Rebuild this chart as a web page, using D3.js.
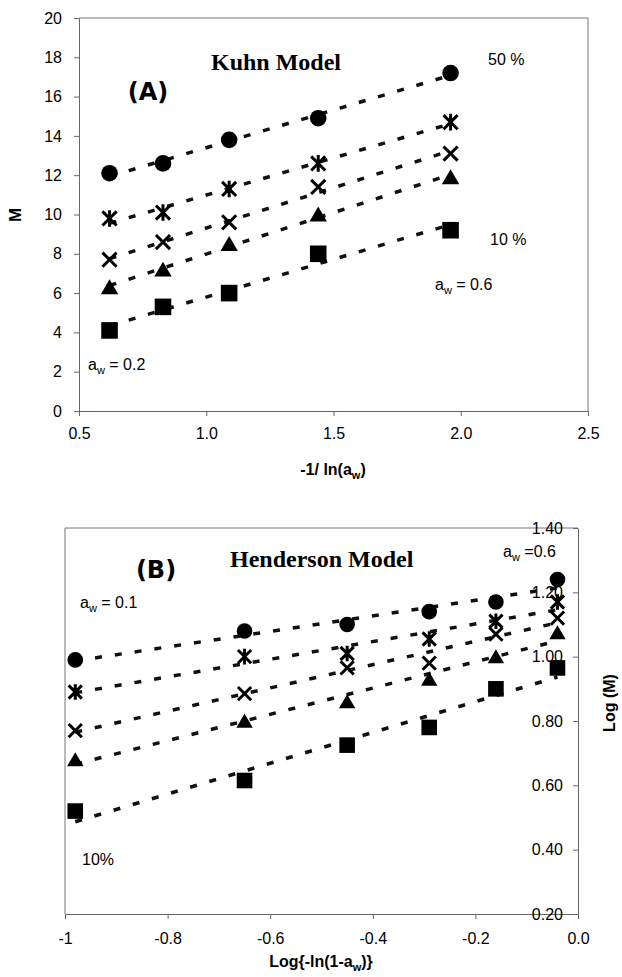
<!DOCTYPE html>
<html>
<head>
<meta charset="utf-8">
<script src="https://cdn.jsdelivr.net/npm/d3@7"></script>
<style>
  body { margin: 0; background: #fff; }
  svg { display: block; font-family: "Liberation Sans", Arial, sans-serif; }
  .tick text { font-size: 16px; fill: #000; }
  .tick line, .domain { stroke: #666; stroke-width: 1; }
  .frame { stroke: #777; stroke-width: 1; fill: none; }
  .fit { stroke: #111; stroke-width: 3.5; stroke-dasharray: 7,13; fill: none; }
  .note { font-size: 16px; fill: #000; }
  .title { font-family: "Liberation Serif", "Times New Roman", serif; font-weight: bold; font-size: 24px; fill: #000; }
  .panel { font-family: "DejaVu Sans", sans-serif; font-weight: bold; font-size: 24px; fill: #000; }
  .axtitle { font-weight: bold; font-size: 16px; fill: #000; }
</style>
</head>
<body>
<svg id="chart" width="622" height="977"></svg>
<script>
// (A) Kuhn model: M vs -1/ln(aw)
var kuhnX = [0.62, 0.83, 1.09, 1.44, 1.96];
var kuhnCircle = [12.1, 12.6, 13.8, 14.9, 17.2];
var kuhnStar = [9.8, 10.1, 11.3, 12.6, 14.7];
var kuhnCross = [7.7, 8.6, 9.6, 11.4, 13.1];
var kuhnTriangle = [6.3, 7.2, 8.5, 10.0, 11.9];
var kuhnSquare = [4.1, 5.3, 6.0, 8.0, 9.2];
var kuhnXTicks = [0.5, 1.0, 1.5, 2.0, 2.5];
var kuhnYTicks = [0, 2, 4, 6, 8, 10, 12, 14, 16, 18, 20];

// (B) Henderson model: Log(M) vs Log{-ln(1-aw)}
var hendX = [-0.98, -0.65, -0.45, -0.29, -0.16, -0.04];
var hendCircle = [0.99, 1.08, 1.10, 1.14, 1.17, 1.24];
var hendStar = [0.89, 1.00, 1.01, 1.055, 1.11, 1.17];
var hendCross = [0.77, 0.885, 0.965, 0.98, 1.07, 1.12];
var hendTriangle = [0.68, 0.80, 0.86, 0.93, 1.00, 1.075];
var hendSquare = [0.52, 0.615, 0.725, 0.78, 0.90, 0.965];
var hendXTicks = [-1, -0.8, -0.6, -0.4, -0.2, 0];
var hendYTicks = [0.2, 0.4, 0.6, 0.8, 1.0, 1.2, 1.4];

var markerTypes = ['circle', 'star', 'cross', 'triangle', 'square'];

var svg = d3.select('#chart');

// marker path, s = half size
function markerPath(type, s) {
  var p = d3.path();
  if (type == 'circle') {
    p.arc(0, 0, s, 0, 2 * Math.PI);
  } else if (type == 'square') {
    p.rect(-s, -s, 2 * s, 2 * s);
  } else if (type == 'triangle') {
    p.moveTo(0, -0.95 * s); p.lineTo(1.05 * s, 0.85 * s); p.lineTo(-1.05 * s, 0.85 * s); p.closePath();
  } else {
    var c = s * 0.85;
    p.moveTo(-c, -c); p.lineTo(c, c);
    p.moveTo(-c, c); p.lineTo(c, -c);
    if (type == 'star') { p.moveTo(0, -s); p.lineTo(0, s); }
  }
  return p.toString();
}

// least squares trend line
function fit(xs, ys) {
  var mx = d3.mean(xs), my = d3.mean(ys);
  var sxy = d3.sum(xs, function(x, i) { return (x - mx) * (ys[i] - my); });
  var sxx = d3.sum(xs, function(x) { return (x - mx) * (x - mx); });
  var b = sxy / sxx, a = my - b * mx;
  var x0 = d3.min(xs), x1 = d3.max(xs);
  return [[x0, a + b * x0], [x1, a + b * x1]];
}

function drawSeries(g, x, y, xs, seriesList, size) {
  seriesList.forEach(function(ys, k) {
    g.append('path')
      .attr('class', 'fit')
      .attr('d', d3.line().x(function(d) { return x(d[0]); }).y(function(d) { return y(d[1]); })(fit(xs, ys)));
  });
  seriesList.forEach(function(ys, k) {
    var type = markerTypes[k];
    var filled = (type == 'circle' || type == 'square' || type == 'triangle');
    g.selectAll(null)
      .data(ys)
      .enter()
      .append('path')
      .attr('transform', function(d, i) { return 'translate(' + x(xs[i]) + ',' + y(d) + ')'; })
      .attr('d', markerPath(type, size))
      .style('fill', filled ? '#000' : 'none')
      .style('stroke', '#000')
      .style('stroke-width', filled ? 0 : 3);
  });
}

function note(x, y, main, sub, rest) {
  var t = svg.append('text').attr('class', 'note').attr('x', x).attr('y', y);
  t.append('tspan').text(main);
  if (sub) {
    t.append('tspan').attr('dy', 4).style('font-size', '11px').text(sub);
    t.append('tspan').attr('dy', -4).text(rest);
  }
  return t;
}

// ---------- panel A ----------
var xA = d3.scaleLinear().domain([0.5, 2.5]).range([79, 588]);
var yA = d3.scaleLinear().domain([0, 20]).range([411, 18]);

svg.append('path').attr('class', 'frame')
  .attr('d', 'M' + xA(0.5) + ',' + yA(20) + 'H' + xA(2.5) + 'V' + yA(0));

svg.append('g')
  .attr('transform', 'translate(0,' + yA(0) + ')')
  .call(d3.axisBottom(xA).tickValues(kuhnXTicks).tickFormat(d3.format('.1f')).tickSize(5).tickSizeOuter(0).tickPadding(12));
svg.append('g')
  .attr('transform', 'translate(' + xA(0.5) + ',0)')
  .call(d3.axisLeft(yA).tickValues(kuhnYTicks).tickFormat(d3.format('d')).tickSize(5).tickSizeOuter(0).tickPadding(12));

var gA = svg.append('g');
drawSeries(gA, xA, yA, kuhnX, [kuhnCircle, kuhnStar, kuhnCross, kuhnTriangle, kuhnSquare], 8.3);

svg.append('text').attr('class', 'title').attr('x', 211).attr('y', 70).text('Kuhn Model');
svg.append('text').attr('class', 'panel').attr('x', 148).attr('y', 100).attr('text-anchor', 'middle').text('(A)');
note(488, 65, '50 %');
note(490, 245, '10 %');
note(435, 290, 'a', 'w', ' = 0.6');
note(88, 370, 'a', 'w', ' = 0.2');

svg.append('text').attr('class', 'axtitle')
  .attr('transform', 'translate(21,215) rotate(-90)')
  .attr('text-anchor', 'middle').style('font-size', '17px').text('M');
var tA = svg.append('text').attr('class', 'axtitle').attr('x', 333).attr('y', 475).attr('text-anchor', 'middle');
tA.append('tspan').text('-1/ ln(a');
tA.append('tspan').attr('dy', 4).style('font-size', '11px').text('w');
tA.append('tspan').attr('dy', -4).text(')');

// ---------- panel B ----------
var xB = d3.scaleLinear().domain([-1, 0]).range([65, 578]);
var yB = d3.scaleLinear().domain([0.2, 1.4]).range([914, 528]);

svg.append('path').attr('class', 'frame')
  .attr('d', 'M' + xB(-1) + ',' + yB(0.2) + 'V' + yB(1.4) + 'H' + xB(0));

svg.append('g')
  .attr('transform', 'translate(0,' + yB(0.2) + ')')
  .call(d3.axisBottom(xB).tickValues(hendXTicks)
    .tickFormat(function(d) { return d == -1 ? '-1' : d.toFixed(1); })
    .tickSize(5).tickSizeOuter(0).tickPadding(14));
svg.append('g')
  .attr('transform', 'translate(' + xB(0) + ',0)')
  .call(d3.axisLeft(yB).tickValues(hendYTicks).tickFormat(d3.format('.2f')).tickSize(5).tickSizeOuter(0).tickPadding(10));

var gB = svg.append('g');
drawSeries(gB, xB, yB, hendX, [hendCircle, hendStar, hendCross, hendTriangle, hendSquare], 7.8);

svg.append('text').attr('class', 'title').attr('x', 230).attr('y', 567).text('Henderson Model');
svg.append('text').attr('class', 'panel').attr('x', 156).attr('y', 578).attr('text-anchor', 'middle').text('(B)');
note(80, 608, 'a', 'w', ' = 0.1');
note(503, 557, 'a', 'w', ' =0.6');
note(82, 865, '10%');

svg.append('text').attr('class', 'axtitle')
  .attr('transform', 'translate(615,703) rotate(-90)')
  .attr('text-anchor', 'middle').text('Log (M)');
var tB = svg.append('text').attr('class', 'axtitle').attr('x', 321).attr('y', 967).attr('text-anchor', 'middle');
tB.append('tspan').text('Log{-ln(1-a');
tB.append('tspan').attr('dy', 4).style('font-size', '11px').text('w');
tB.append('tspan').attr('dy', -4).text(')}');
</script>
</body>
</html>
